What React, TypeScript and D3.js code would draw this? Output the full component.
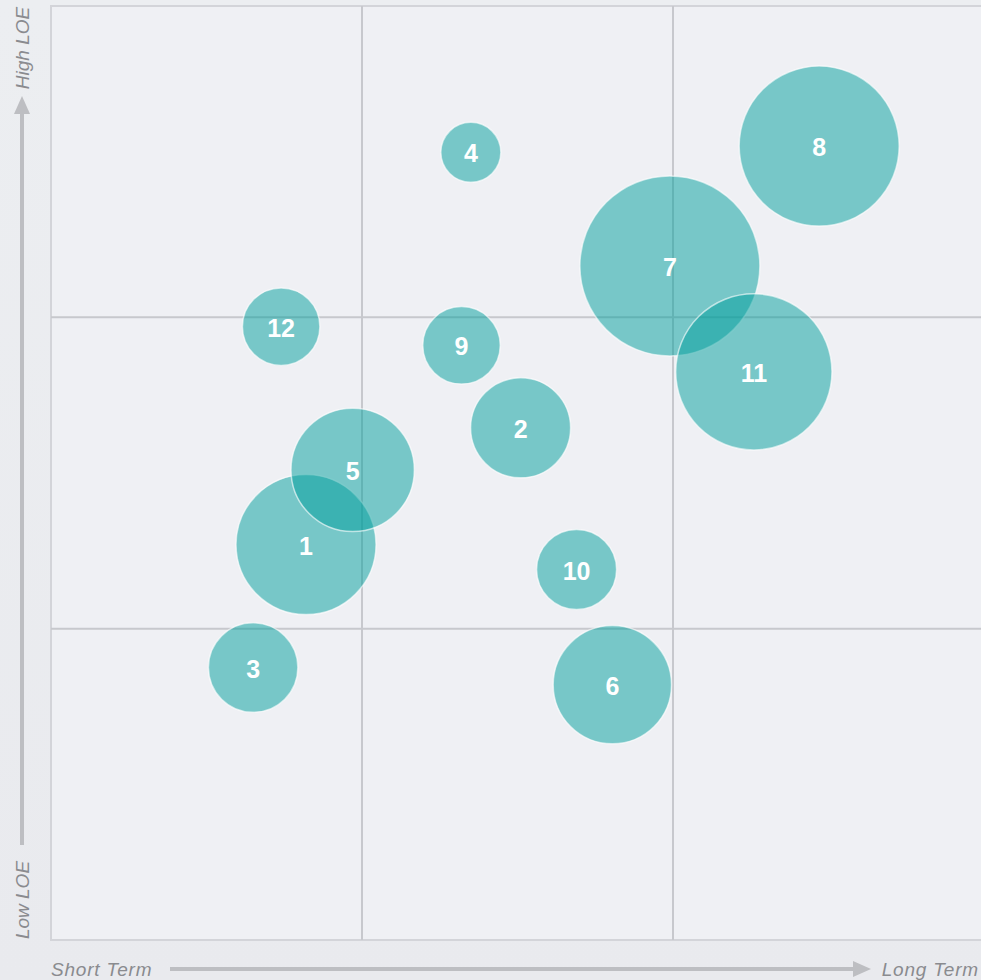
import React from "react";
import * as d3 from "d3";

const ids = ["1", "2", "3", "4", "5", "6", "7", "8", "9", "10", "11", "12"];
const termValues = [8.2, 15.1, 6.5, 13.5, 9.7, 18.05, 19.9, 24.7, 13.2, 16.9, 22.6, 7.4];
const loeValues = [12.7, 16.45, 8.75, 25.3, 15.1, 8.2, 21.65, 25.5, 19.1, 11.9, 18.25, 19.7];
const sizeValues = [49, 25, 20, 9, 38, 35, 81, 64, 15, 16, 61, 15];
const gridTicks = [10, 20];
const yLabels = ["High LOE", "Low LOE"];
const xLabels = ["Short Term", "Long Term"];

const W = 981;
const H = 980;
const left = 51;
const top = 6;
const plotW = 933;
const plotH = 934;

export default function App() {
  const x = d3.scaleLinear().domain([0, 30]).range([left, left + plotW]);
  const y = d3.scaleLinear().domain([0, 30]).range([top + plotH, top]);
  const r = d3.scaleSqrt().domain([0, 100]).range([0, 100]);
  const font = "'Liberation Sans', Arial, Helvetica, sans-serif";
  const data = ids.map((id, i) => ({ id, x: termValues[i], y: loeValues[i], s: sizeValues[i] }));
  const axisColor = "#bdbec2";
  const textColor = "#8a8b8f";
  return (
    <svg
      width={W}
      height={H}
      style={{ position: "absolute", left: 0, top: 0, display: "block" }}
    >
      <defs>
        <linearGradient id="bg" x1="0" y1="0" x2="0" y2="1">
          <stop offset="0" stopColor="#eceef1" />
          <stop offset="1" stopColor="#e9eaee" />
        </linearGradient>
        <clipPath id="clip">
          <rect x={left} y={top} width={plotW} height={plotH} />
        </clipPath>
      </defs>
      <rect x={0} y={0} width={W} height={H} fill="url(#bg)" />
      <rect x={left} y={top} width={plotW} height={plotH} fill="#eff0f4" stroke="#d3d4d9" strokeWidth={2} />
      {gridTicks.map((t) => (
        <g key={t}>
          <line x1={x(t)} x2={x(t)} y1={top} y2={top + plotH} stroke="#c7c8cd" strokeWidth={2} />
          <line x1={left} x2={left + plotW} y1={y(t)} y2={y(t)} stroke="#c7c8cd" strokeWidth={2} />
        </g>
      ))}
      <g clipPath="url(#clip)">
        {data.map((d) => (
          <circle
            key={d.id}
            cx={x(d.x)}
            cy={y(d.y)}
            r={r(d.s)}
            fill="#009e9b"
            fillOpacity={0.5}
            stroke="#ffffff"
            strokeOpacity={0.6}
            strokeWidth={1.5}
          />
        ))}
        {data.map((d) => (
          <text
            key={"t" + d.id}
            x={x(d.x)}
            y={y(d.y)}
            dy="0.4em"
            textAnchor="middle"
            fill="#ffffff"
            fontFamily={font}
            fontWeight="bold"
            fontSize={25}
          >
            {d.id}
          </text>
        ))}
      </g>
      {/* vertical axis arrow */}
      <line x1={22} x2={22} y1={845} y2={110} stroke={axisColor} strokeWidth={4} />
      <path d="M22,96 L14,114 L30,114 Z" fill={axisColor} />
      <text
        transform="translate(29,48) rotate(-90)"
        textAnchor="middle"
        fill={textColor}
        fontFamily={font}
        fontStyle="italic"
        fontSize={19}
      >
        {yLabels[0]}
      </text>
      <text
        transform="translate(29,900) rotate(-90)"
        textAnchor="middle"
        fill={textColor}
        fontFamily={font}
        fontStyle="italic"
        fontSize={19}
      >
        {yLabels[1]}
      </text>
      {/* horizontal axis arrow */}
      <line x1={170} x2={856} y1={969} y2={969} stroke={axisColor} strokeWidth={4} />
      <path d="M871,969 L853,961 L853,977 Z" fill={axisColor} />
      <text
        x={51}
        y={976}
        fill={textColor}
        fontFamily={font}
        fontStyle="italic"
        fontSize={19}
        letterSpacing={0.8}
      >
        {xLabels[0]}
      </text>
      <text
        x={979}
        y={976}
        textAnchor="end"
        fill={textColor}
        fontFamily={font}
        fontStyle="italic"
        fontSize={19}
        letterSpacing={0.8}
      >
        {xLabels[1]}
      </text>
    </svg>
  );
}
